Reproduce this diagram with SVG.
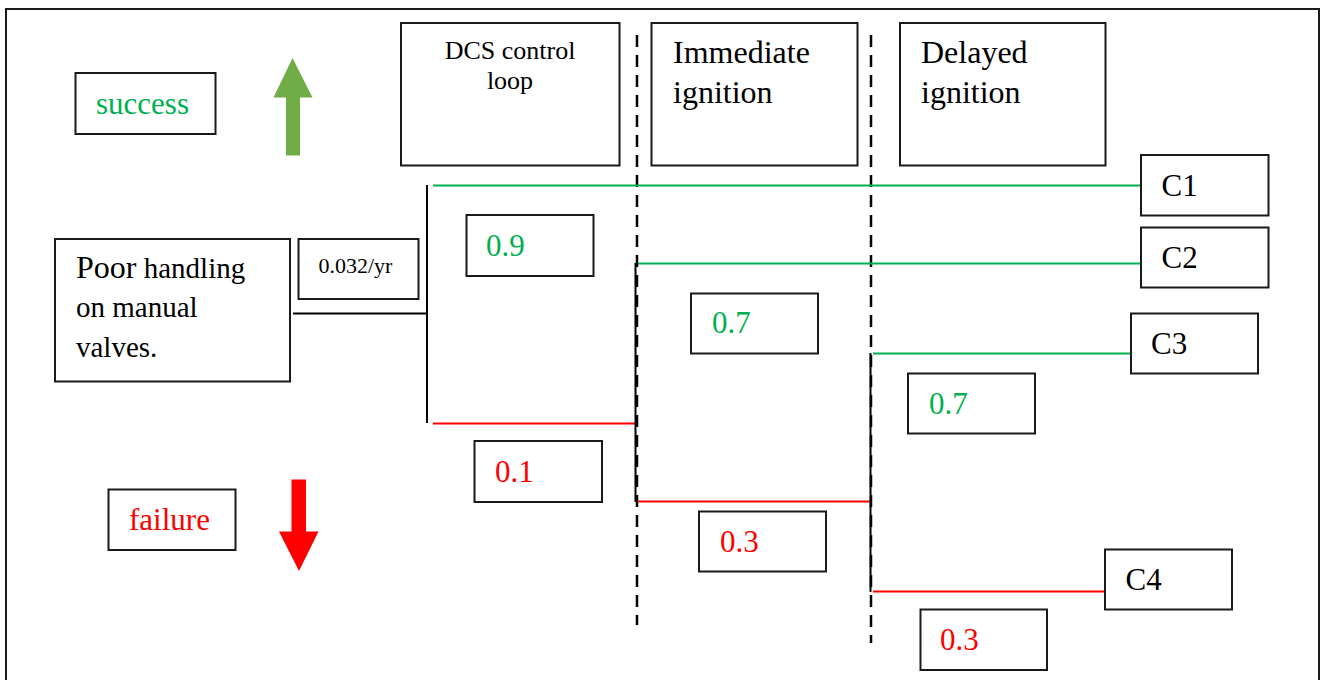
<svg xmlns="http://www.w3.org/2000/svg" width="1325" height="680" viewBox="0 0 1325 680">
  <style>
    .box { fill: #ffffff; stroke: #1a1a1a; stroke-width: 2; }
    .t { fill: #000000; }
    .g { fill: #00b050; }
    .r { fill: #ff0000; }
    .wire { fill: none; stroke: #000000; stroke-width: 2; }
    .ok { fill: none; stroke: #00b050; stroke-width: 2; }
    .bad { fill: none; stroke: #ff0000; stroke-width: 2; }
    .stage { fill: none; stroke: #000000; stroke-width: 2.5; stroke-dasharray: 12 8; }
  </style>

  <!-- frame -->
  <rect x="6" y="9" width="1313" height="700" fill="none" stroke="#1a1a1a" stroke-width="2"/>

  <!-- stage separators -->
  <g id="stage-lines">
    <line class="stage" x1="637" y1="35" x2="637" y2="625"/>
    <line class="stage" x1="871" y1="35" x2="871" y2="643"/>
  </g>

  <g font-family="Liberation Serif, Times New Roman, serif">
    <!-- legend -->
    <g id="legend-success">
      <rect class="box" x="75.5" y="73" width="140" height="61"/>
      <text class="t g" x="96" y="114" font-size="31">success</text>
      <polygon points="292.5,58 312.5,97.5 300,97.5 300,155.5 286,155.5 286,97.5 273.5,97.5" fill="#70ad47"/>
    </g>
    <g id="legend-failure">
      <rect class="box" x="108.5" y="489.5" width="127" height="60.5"/>
      <text class="t r" x="129" y="530" font-size="31">failure</text>
      <polygon points="291.5,479.5 306,479.5 306,531.5 318.5,531.5 299,571 279,531.5 291.5,531.5" fill="#ff0000"/>
    </g>

    <!-- column headers -->
    <g id="header-dcs">
      <rect class="box" x="401" y="23" width="218.5" height="142.5"/>
      <text class="t" x="510" y="59" font-size="26" text-anchor="middle">DCS control</text>
      <text class="t" x="510" y="89" font-size="26" text-anchor="middle">loop</text>
    </g>
    <g id="header-immediate">
      <rect class="box" x="651.5" y="23" width="206" height="142.5"/>
      <text class="t" x="673" y="63" font-size="32">Immediate</text>
      <text class="t" x="673" y="103" font-size="32">ignition</text>
    </g>
    <g id="header-delayed">
      <rect class="box" x="900" y="23" width="205.5" height="142.5"/>
      <text class="t" x="921" y="63" font-size="32">Delayed</text>
      <text class="t" x="921" y="103" font-size="32">ignition</text>
    </g>

    <!-- initiating event -->
    <g id="initiating-event">
      <rect class="box" x="55" y="239" width="235" height="142.5"/>
      <text class="t" x="76" y="278" font-size="29"><tspan font-size="32">Poor</tspan> handling</text>
      <text class="t" x="76" y="317" font-size="29">on manual</text>
      <text class="t" x="76" y="357" font-size="29">valves.</text>
    </g>
    <g id="frequency">
      <rect class="box" x="298.5" y="239" width="120" height="60"/>
      <text class="t" x="318.5" y="273" font-size="22">0.032/yr</text>
    </g>
  </g>

  <!-- branches -->
  <g id="connectors">
    <line class="wire" x1="293" y1="313.5" x2="427" y2="313.5"/>
    <line class="wire" x1="427" y1="185" x2="427" y2="423"/>
    <line class="ok" x1="433" y1="185.5" x2="1141" y2="185.5"/>
    <line class="bad" x1="433" y1="423.5" x2="636" y2="423.5"/>
    <line class="wire" x1="635.5" y1="263" x2="635.5" y2="502"/>
    <line class="ok" x1="638" y1="263.5" x2="1141" y2="263.5"/>
    <line class="bad" x1="638" y1="501.5" x2="871" y2="501.5"/>
    <line class="wire" x1="870.5" y1="353" x2="870.5" y2="592"/>
    <line class="ok" x1="873" y1="353.5" x2="1131" y2="353.5"/>
    <line class="bad" x1="873" y1="591.5" x2="1105" y2="591.5"/>
  </g>

  <g font-family="Liberation Serif, Times New Roman, serif">
    <!-- branch probabilities -->
    <g id="p-dcs-success">
      <rect class="box" x="466.5" y="215" width="127" height="61"/>
      <text class="t g" x="486" y="256" font-size="31">0.9</text>
    </g>
    <g id="p-dcs-failure">
      <rect class="box" x="474.5" y="441" width="127.5" height="61"/>
      <text class="t r" x="495" y="482" font-size="31">0.1</text>
    </g>
    <g id="p-immediate-yes">
      <rect class="box" x="691" y="293.5" width="127" height="60"/>
      <text class="t g" x="712" y="333" font-size="31">0.7</text>
    </g>
    <g id="p-immediate-no">
      <rect class="box" x="699" y="511.5" width="127" height="60"/>
      <text class="t r" x="720" y="552" font-size="31">0.3</text>
    </g>
    <g id="p-delayed-yes">
      <rect class="box" x="908" y="373.5" width="127" height="60"/>
      <text class="t g" x="929" y="414" font-size="31">0.7</text>
    </g>
    <g id="p-delayed-no">
      <rect class="box" x="920.5" y="609.5" width="126.5" height="60.5"/>
      <text class="t r" x="940" y="650" font-size="31">0.3</text>
    </g>

    <!-- outcomes -->
    <g id="outcome-c1">
      <rect class="box" x="1141" y="155" width="127.5" height="60.5"/>
      <text class="t" x="1161.5" y="196" font-size="31">C1</text>
    </g>
    <g id="outcome-c2">
      <rect class="box" x="1141" y="227.5" width="127.5" height="60"/>
      <text class="t" x="1161.5" y="268" font-size="31">C2</text>
    </g>
    <g id="outcome-c3">
      <rect class="box" x="1131" y="313.5" width="127" height="60"/>
      <text class="t" x="1151" y="354" font-size="31">C3</text>
    </g>
    <g id="outcome-c4">
      <rect class="box" x="1105" y="549.5" width="127" height="60"/>
      <text class="t" x="1125.5" y="590" font-size="31">C4</text>
    </g>
  </g>
</svg>
